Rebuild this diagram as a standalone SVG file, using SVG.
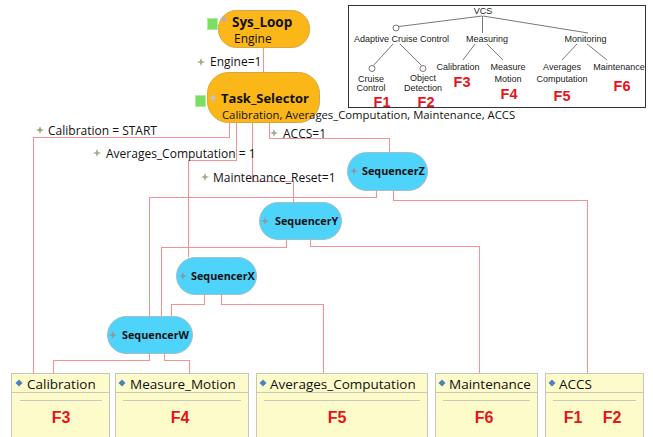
<svg xmlns="http://www.w3.org/2000/svg" xmlns:xlink="http://www.w3.org/1999/xlink" width="653" height="437" viewBox="0 0 653 437">
  <style>
    .txt { font-family: "Open Sans", "Noto Sans", sans-serif; fill: #111; }
    .lbl { font-size: 12px; }
    .bold { font-weight: bold; }
    .state { fill: #fbb717; stroke: #d9a544; stroke-width: 1; }
    .seq { fill: #4ed3fb; stroke: #9fbfcc; stroke-width: 1; }
    .box { fill: #fdfbca; stroke: #c6c6c0; stroke-width: 1; }
    .sep { stroke: #c9c9c0; stroke-width: 1; }
    .wire { fill: none; stroke: #f29494; stroke-width: 1.1; }
    .tree { fill: none; stroke: #555; stroke-width: 0.8; }
    .vcs { font-family: "Liberation Sans", Arial, sans-serif; font-size: 9px; fill: #222; text-anchor: middle; }
    .red { font-family: "Liberation Sans", Arial, sans-serif; font-weight: bold; fill: #e8131b; text-anchor: middle; }
    .start { fill: #78e05e; stroke: #b4e8a8; stroke-width: 1; }
  </style>
  <defs>
    <path id="star" d="M0,-4 L1.1,-1.1 L4,0 L1.1,1.1 L0,4 L-1.1,1.1 L-4,0 L-1.1,-1.1 Z"/>
    <path id="dia" d="M0,-3.5 L3.5,0 L0,3.5 L-3.5,0 Z"/>
    <clipPath id="subclip"><rect x="200" y="109" width="318" height="16"/></clipPath>
  </defs>

  <rect width="653" height="437" fill="#fff"/>

  <!-- connectors -->
  <g id="connectors" class="wire">
    <path d="M263.5,47 V73"/>
    <path d="M229.5,122 V137.5 H33.5 V373"/>
    <path d="M236.5,122 V160.5 H188.5 V257"/>
    <path d="M252.5,122 V181.5 H293.5 V202"/>
    <path d="M269.5,122 V138.5 H389.5 V152"/>
    <path d="M376.5,190 V197.5 H149.5 V316"/>
    <path d="M393.5,190 V200.5 H587.5 V373"/>
    <path d="M286.5,239 V247.5 H161.5 V316"/>
    <path d="M310.5,239 V246.5 H479.5 V373"/>
    <path d="M204.5,294 V304.5 H171.5 V316"/>
    <path d="M221.5,294 V304.5 H323.5 V373"/>
    <path d="M149.5,353 V360.5 H53.5 V373"/>
    <path d="M164.5,353 V360.5 H189.5 V373"/>
  </g>

  <!-- connector labels -->
  <g id="labels" class="txt lbl">
    <use xlink:href="#star" x="201" y="62" fill="#9cae8c"/>
    <text x="210" y="66">Engine=1</text>
    <use xlink:href="#star" x="40" y="130" fill="#8fa878"/>
    <text x="48" y="135">Calibration = START</text>
    <use xlink:href="#star" x="97" y="153" fill="#9cae8c"/>
    <text x="106" y="158">Averages_Computation = 1</text>
    <use xlink:href="#star" x="205" y="177" fill="#9cae8c"/>
    <text x="213" y="182">Maintenance_Reset=1</text>
    <use xlink:href="#star" x="274" y="133" fill="#9cae8c"/>
    <text x="283" y="138">ACCS=1</text>
  </g>

  <!-- state nodes -->
  <g id="sys_loop">
    <rect class="start" x="207.5" y="18.5" width="10" height="11"/>
    <rect class="state" x="218.5" y="10.5" width="91" height="37" rx="18"/>
    <use xlink:href="#star" x="224" y="19" fill="#b7a6d6"/>
    <text class="txt bold" x="232" y="27" font-size="13.5">Sys_Loop</text>
    <text class="txt" x="234" y="43" font-size="12">Engine</text>
  </g>

  <g id="task_selector">
    <rect class="start" x="195.5" y="95.5" width="10" height="11"/>
    <rect class="state" x="207.5" y="72.5" width="112" height="50" rx="21"/>
    <use xlink:href="#star" x="213" y="98" fill="#b7c6e6"/>
    <text class="txt bold" x="221" y="103" font-size="13">Task_Selector</text>
    <text class="txt" x="222" y="119" font-size="11.3" clip-path="url(#subclip)">Calibration, Averages_Computation, Maintenance, ACCS</text>
  </g>

  <g id="sequencerZ">
    <rect class="seq" x="347.5" y="152.5" width="80" height="38" rx="19"/>
    <use xlink:href="#star" x="354" y="171" fill="#8a9aa4"/>
    <text class="txt bold" x="362" y="175" font-size="10.8">SequencerZ</text>
  </g>
  <g id="sequencerY">
    <rect class="seq" x="259.5" y="202.5" width="82" height="37" rx="18.5"/>
    <use xlink:href="#star" x="265" y="221" fill="#8a9aa4"/>
    <text class="txt bold" x="275" y="225" font-size="10.8">SequencerY</text>
  </g>
  <g id="sequencerX">
    <rect class="seq" x="176.5" y="257.5" width="80" height="37" rx="18.5"/>
    <use xlink:href="#star" x="183" y="276" fill="#8a9aa4"/>
    <text class="txt bold" x="191" y="280" font-size="10.8">SequencerX</text>
  </g>
  <g id="sequencerW">
    <rect class="seq" x="107.5" y="316.5" width="85" height="37" rx="18.5"/>
    <use xlink:href="#star" x="113" y="335" fill="#8a9aa4"/>
    <text class="txt bold" x="122" y="339" font-size="10.8">SequencerW</text>
  </g>

  <!-- function blocks -->
  <g id="calibration">
    <rect class="box" x="11.5" y="373.5" width="98" height="70"/>
    <line class="sep" x1="12" y1="392.5" x2="109" y2="392.5"/>
    <line class="sep" x1="20" y1="400.5" x2="102" y2="400.5"/>
    <use xlink:href="#dia" x="19" y="383" fill="#4f7fc0"/>
    <text class="txt" x="27" y="389" font-size="13.5">Calibration</text>
    <text class="red" x="61" y="423" font-size="16">F3</text>
  </g>
  <g id="measure_motion">
    <rect class="box" x="115.5" y="373.5" width="133" height="70"/>
    <line class="sep" x1="116" y1="392.5" x2="248" y2="392.5"/>
    <line class="sep" x1="123" y1="400.5" x2="241" y2="400.5"/>
    <use xlink:href="#dia" x="122" y="383" fill="#4f7fc0"/>
    <text class="txt" x="130" y="389" font-size="13.5">Measure_Motion</text>
    <text class="red" x="180" y="423" font-size="16">F4</text>
  </g>
  <g id="averages_computation">
    <rect class="box" x="256.5" y="373.5" width="171" height="70"/>
    <line class="sep" x1="257" y1="392.5" x2="427" y2="392.5"/>
    <line class="sep" x1="264" y1="400.5" x2="420" y2="400.5"/>
    <use xlink:href="#dia" x="263" y="383" fill="#4f7fc0"/>
    <text class="txt" x="270" y="389" font-size="13.5">Averages_Computation</text>
    <text class="red" x="337" y="423" font-size="16">F5</text>
  </g>
  <g id="maintenance">
    <rect class="box" x="435.5" y="373.5" width="102" height="70"/>
    <line class="sep" x1="436" y1="392.5" x2="537" y2="392.5"/>
    <line class="sep" x1="443" y1="400.5" x2="530" y2="400.5"/>
    <use xlink:href="#dia" x="442" y="383" fill="#4f7fc0"/>
    <text class="txt" x="449" y="389" font-size="13.5">Maintenance</text>
    <text class="red" x="484" y="423" font-size="16">F6</text>
  </g>
  <g id="accs">
    <rect class="box" x="545.5" y="373.5" width="98" height="70"/>
    <line class="sep" x1="546" y1="392.5" x2="643" y2="392.5"/>
    <line class="sep" x1="553" y1="400.5" x2="636" y2="400.5"/>
    <use xlink:href="#dia" x="552" y="383" fill="#4f7fc0"/>
    <text class="txt" x="559" y="389" font-size="13.5">ACCS</text>
    <text class="red" x="573" y="423" font-size="16">F1</text>
    <text class="red" x="612" y="423" font-size="16">F2</text>
  </g>

  <!-- feature tree panel -->
  <g id="vcs_tree">
    <rect x="348.5" y="5.5" width="297" height="102" fill="#fff" stroke="#333" stroke-width="1"/>
    <text class="vcs" x="483" y="14" font-size="9.5">VCS</text>
    <g class="tree">
      <line x1="482" y1="16" x2="399" y2="26.5"/>
      <line x1="482.5" y1="16" x2="482.5" y2="33"/>
      <line x1="483" y1="16" x2="588" y2="33"/>
      <circle cx="396" cy="28" r="3" fill="#fff"/>
      <line x1="393" y1="44" x2="373.5" y2="65.5"/>
      <line x1="400" y1="44" x2="421.5" y2="65.5"/>
      <circle cx="372" cy="68.5" r="3" fill="#fff"/>
      <circle cx="423" cy="68.5" r="3" fill="#fff"/>
      <line x1="475" y1="44" x2="463" y2="60"/>
      <line x1="487" y1="44" x2="503" y2="60"/>
      <line x1="577" y1="44" x2="562" y2="60"/>
      <line x1="587" y1="44" x2="607" y2="60"/>
    </g>
    <text class="vcs" x="401.5" y="42">Adaptive Cruise Control</text>
    <text class="vcs" x="487" y="42">Measuring</text>
    <text class="vcs" x="585.5" y="42">Monitoring</text>
    <text class="vcs" x="371" y="82">Cruise</text>
    <text class="vcs" x="371" y="91">Control</text>
    <text class="vcs" x="423" y="81">Object</text>
    <text class="vcs" x="423" y="91">Detection</text>
    <text class="vcs" x="458" y="70">Calibration</text>
    <text class="vcs" x="508" y="70">Measure</text>
    <text class="vcs" x="508" y="82">Motion</text>
    <text class="vcs" x="562" y="70">Averages</text>
    <text class="vcs" x="562" y="82">Computation</text>
    <text class="vcs" x="619" y="70">Maintenance</text>
    <text class="red" x="382" y="107" font-size="14.5">F1</text>
    <text class="red" x="426" y="107" font-size="14.5">F2</text>
    <text class="red" x="462" y="87" font-size="14.5">F3</text>
    <text class="red" x="509" y="99" font-size="14.5">F4</text>
    <text class="red" x="562" y="101" font-size="14.5">F5</text>
    <text class="red" x="622" y="91" font-size="14.5">F6</text>
  </g>
</svg>
